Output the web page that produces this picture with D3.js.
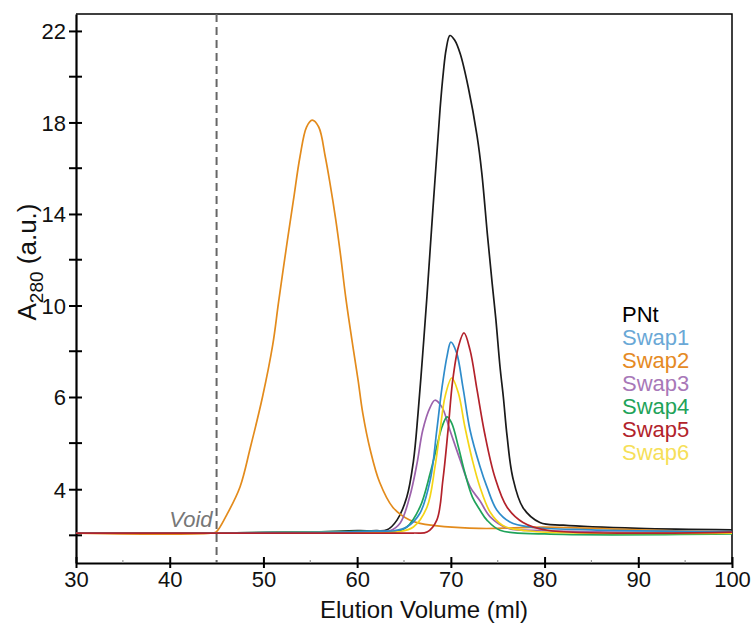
<!DOCTYPE html>
<html>
<head>
<meta charset="utf-8">
<script src="https://cdnjs.cloudflare.com/ajax/libs/d3/7.8.5/d3.min.js"></script>
<style>
	body { margin: 0; background: #fff; }
	svg { font-family: "Liberation Sans", Arial, sans-serif; }
</style>
</head>
<body>
<div id="chart"></div>
<script>
// elution volume (ml), A280 readings per construct
var pnt = [[30,3.05],[45,3.05],[55,3.07],[60,3.1],[62,3.1],[63.2,3.12],[64.25,3.33],[65.3,3.83],[66,4.6],[66.5,5.65],[67,7.9],[67.45,10.4],[67.8,12.5],[68.1,14.3],[68.5,16.6],[68.85,18.6],[69.2,20.2],[69.5,21.2],[69.9,21.8],[70.4,21.6],[71,21.0],[71.85,19.55],[72.8,17.4],[73.3,15.8],[73.9,13.1],[74.4,11.0],[74.8,9.4],[75.25,7.3],[75.6,6.0],[76,5.15],[76.6,4.26],[77.7,3.6],[79.5,3.28],[82,3.22],[90,3.15],[100,3.12]];
var swap1 = [[30,3.05],[45,3.05],[58,3.07],[62,3.09],[64,3.1],[65.3,3.18],[66.7,3.48],[67.8,4.2],[68.5,5.28],[69.05,6.4],[69.6,7.8],[70,8.4],[70.6,7.95],[71.3,6.4],[72.05,5.28],[73.1,4.5],[73.85,4.05],[74.9,3.55],[76.3,3.29],[78.4,3.18],[85,3.12],[100,3.08]];
var swap2 = [[30,3.05],[44.6,3.05],[45,3.08],[46.1,3.45],[47.5,4.05],[48.6,4.9],[49.9,6],[51,8.3],[51.6,10.1],[52.4,12.4],[53.2,14.6],[53.9,16.5],[54.6,17.8],[55.2,18.1],[55.9,17.8],[56.6,16.5],[57.1,15.35],[57.7,13.8],[58.2,12.3],[58.8,10.3],[59.55,8.2],[60.1,6.74],[60.6,5.65],[61.4,4.85],[62.4,4.15],[63.8,3.61],[65.6,3.33],[66.7,3.26],[73,3.15],[80,3.18],[90,3.12],[100,3.07]];
var swap3 = [[30,3.05],[45,3.05],[58,3.07],[62,3.08],[63.5,3.1],[64.6,3.27],[65.6,3.83],[66.4,4.57],[67,5.28],[67.8,5.78],[68.3,5.93],[69.05,5.78],[69.9,5.28],[71,4.63],[72.05,4.05],[73.1,3.75],[74.2,3.4],[76,3.16],[80,3.1],[100,3.05]];
var swap4 = [[30,3.05],[45,3.05],[58,3.08],[62,3.09],[64,3.08],[65.3,3.18],[66.7,3.61],[67.8,4.35],[68.5,4.92],[69.05,5.35],[69.6,5.57],[70.1,5.43],[70.8,4.92],[71.5,4.35],[72.3,3.83],[73.1,3.55],[73.85,3.33],[75.25,3.11],[80,3.03],[100,3.03]];
var swap5 = [[30,3.05],[45,3.05],[60,3.05],[66,3.05],[67.45,3.07],[68.5,3.33],[69.15,4.2],[69.7,5.28],[70.2,6.74],[70.8,8.19],[71.4,8.8],[72.05,8.05],[72.8,6.3],[73.6,5.22],[74.7,4.26],[76,3.61],[77.7,3.28],[80.3,3.11],[100,3.07]];
var swap6 = [[30,3.05],[45,3.05],[60,3.07],[64.5,3.08],[66,3.18],[67.45,3.61],[68.3,4.48],[68.85,5.28],[69.4,6.05],[70.1,6.83],[70.8,6.17],[71.5,5.35],[72.3,4.63],[73.1,4.05],[74.2,3.5],[75.5,3.22],[78,3.1],[100,3.05]];

var seriesNames = ["PNt", "Swap1", "Swap2", "Swap3", "Swap4", "Swap5", "Swap6"];
var seriesData = [pnt, swap1, swap2, swap3, swap4, swap5, swap6];
var lineColors = ["#1a1a1a", "#2f8ccb", "#e38b1c", "#9c62ac", "#1fa35a", "#b3222b", "#f4d516"];
var legendColors = ["#000000", "#6aa8d6", "#e58a24", "#a878b8", "#1fa35a", "#b2232b", "#f6df5a"];

var xTicks = [30, 40, 50, 60, 70, 80, 90, 100];
var xMinor = [35, 45, 55, 65, 75, 85, 95];
var yTicks = [4, 6, 10, 14, 18, 22];
var yMinor = [3, 5, 8, 12, 16, 20];
var voidVolume = 45;

var width = 751, height = 625;
var margin = {top: 14, right: 19, bottom: 62, left: 76};

var svg = d3.select("#chart")
	.append("svg")
	.attr("width", width)
	.attr("height", height);

var xScale = d3.scaleLinear()
	.domain([30, 100])
	.range([margin.left, width - margin.right]);

// the published axis is stretched below 6
var yScale = d3.scaleLinear()
	.domain([2.4, 6, 22.74])
	.range([height - margin.bottom, 397, margin.top]);

//Frame on top and right
svg.append("path")
	.attr("d", "M" + margin.left + "," + margin.top + "H" + (width - margin.right) + "V" + (height - margin.bottom))
	.attr("fill", "none")
	.attr("stroke", "#000")
	.attr("stroke-width", 1.5);

//Axes
var xAxis = d3.axisBottom(xScale).tickValues(xTicks).tickSize(0).tickPadding(8).tickFormat(d3.format("d"));
var yAxis = d3.axisLeft(yScale).tickValues(yTicks).tickSize(0).tickPadding(10).tickFormat(d3.format("d"));

var gx = svg.append("g")
	.attr("transform", "translate(0," + (height - margin.bottom) + ")")
	.call(xAxis);
var gy = svg.append("g")
	.attr("transform", "translate(" + margin.left + ",0)")
	.call(yAxis);

[gx, gy].forEach(function(g){
	g.select(".domain").attr("stroke", "#000").attr("stroke-width", 2.2);
	g.selectAll("text").attr("font-size", 22).attr("fill", "#111");
});
gy.selectAll("text").attr("dy", "0.36em");

//Crossing tick marks
gx.selectAll(".tick").append("line")
	.attr("y1", -6).attr("y2", 5)
	.attr("stroke", "#000").attr("stroke-width", 2);
gy.selectAll(".tick").append("line")
	.attr("x1", -7).attr("x2", 6)
	.attr("stroke", "#000").attr("stroke-width", 2);

svg.append("g").selectAll("line")
	.data(yMinor)
	.enter().append("line")
	.attr("x1", margin.left - 7).attr("x2", margin.left + 6)
	.attr("y1", function(d){ return yScale(d); })
	.attr("y2", function(d){ return yScale(d); })
	.attr("stroke", "#000").attr("stroke-width", 2);

svg.append("g").selectAll("line")
	.data(xMinor)
	.enter().append("line")
	.attr("x1", function(d){ return xScale(d); })
	.attr("x2", function(d){ return xScale(d); })
	.attr("y1", height - margin.bottom - 3).attr("y2", height - margin.bottom)
	.attr("stroke", "#999").attr("stroke-width", 1.2);

//Void line
svg.append("line")
	.attr("x1", xScale(voidVolume)).attr("x2", xScale(voidVolume))
	.attr("y1", margin.top).attr("y2", height - margin.bottom)
	.attr("stroke", "#666")
	.attr("stroke-width", 2)
	.attr("stroke-dasharray", "8,5");

svg.append("text")
	.attr("x", xScale(voidVolume) - 4)
	.attr("y", 527)
	.attr("text-anchor", "end")
	.attr("font-size", 22)
	.attr("font-style", "italic")
	.attr("fill", "#777")
	.text("Void");

//Lines
var line = d3.line()
	.x(function(d){ return xScale(d[0]); })
	.y(function(d){ return yScale(d[1]); })
	.curve(d3.curveCatmullRom.alpha(0.5));

var drawOrder = [0, 2, 3, 4, 6, 1, 5];
svg.append("g").selectAll("path")
	.data(drawOrder)
	.enter().append("path")
	.attr("d", function(i){ return line(seriesData[i]); })
	.attr("fill", "none")
	.attr("stroke", function(i){ return lineColors[i]; })
	.attr("stroke-width", 1.7);

//Legend
svg.append("g").selectAll("text")
	.data(seriesNames)
	.enter().append("text")
	.attr("x", 622)
	.attr("y", function(d, i){ return 314 + i * 23; })
	.attr("dy", "0.36em")
	.attr("font-size", 22)
	.attr("fill", function(d, i){ return legendColors[i]; })
	.text(function(d){ return d; });

//Axis titles
svg.append("text")
	.attr("x", 424)
	.attr("y", 618)
	.attr("text-anchor", "middle")
	.attr("font-size", 24)
	.attr("fill", "#111")
	.text("Elution Volume (ml)");

var yTitle = svg.append("text")
	.attr("text-anchor", "middle")
	.attr("transform", "translate(36,262)rotate(-90)")
	.attr("font-size", 26)
	.attr("fill", "#111");
yTitle.append("tspan").text("A");
yTitle.append("tspan").attr("font-size", 19).attr("dy", 7).text("280");
yTitle.append("tspan").attr("dy", -7).text(" (a.u.)");
</script>
</body>
</html>
